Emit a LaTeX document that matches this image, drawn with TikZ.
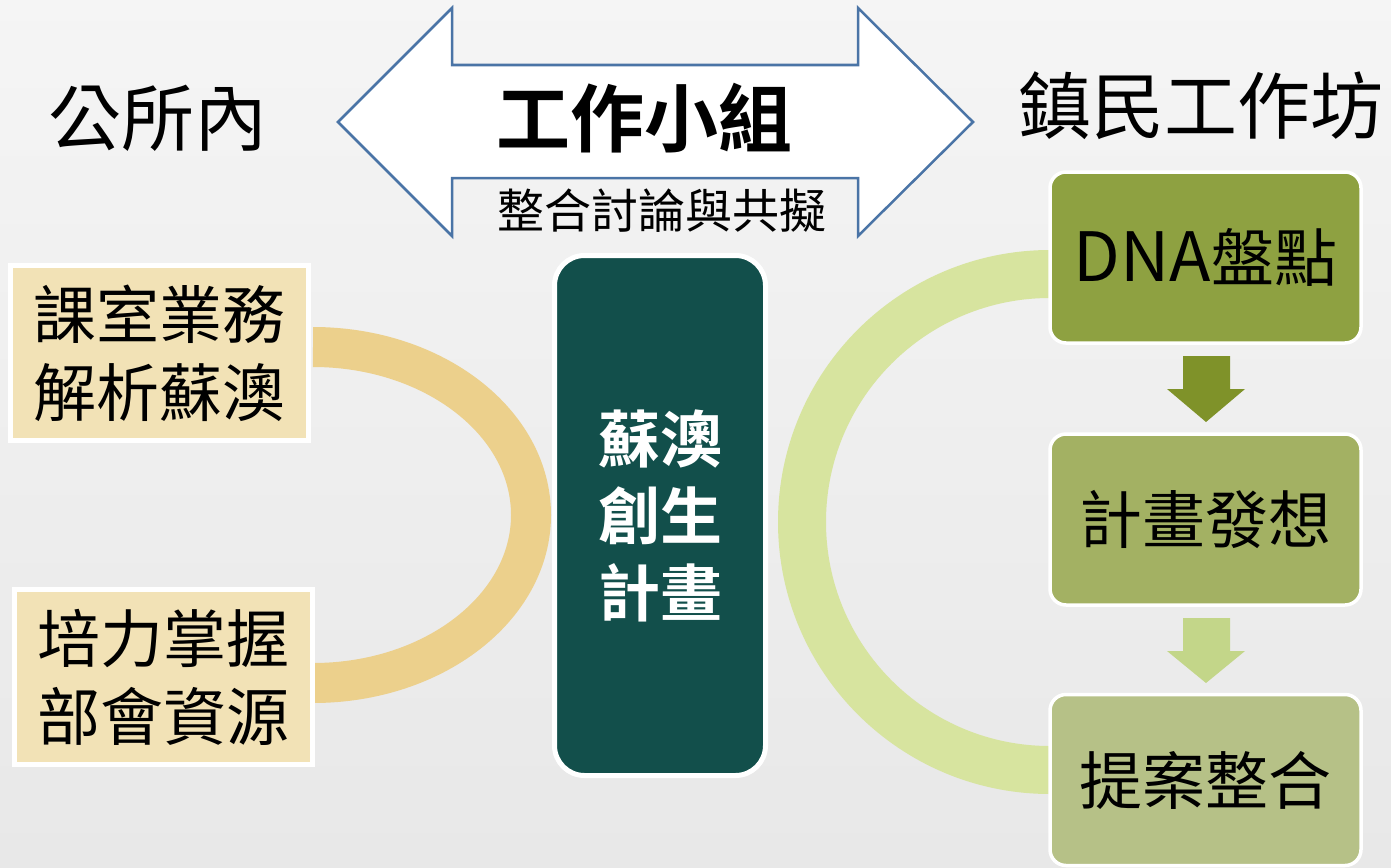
\documentclass[tikz,border=0pt]{standalone}
\usepackage{fontspec}
\setmainfont{Noto Sans CJK TC}[BoldFont={Noto Sans CJK TC Bold}]
\usetikzlibrary{calc}
\definecolor{bgc}{HTML}{EEEEEE}
\definecolor{bgd}{HTML}{E8E8E8}
\definecolor{arrowblue}{HTML}{4A74A6}
\definecolor{tanbox}{HTML}{F2E2B6}
\definecolor{tanarc}{HTML}{ECD08C}
\definecolor{darkteal}{HTML}{124F4B}
\definecolor{olive1}{HTML}{8EA141}
\definecolor{olive2}{HTML}{A3B163}
\definecolor{olive3}{HTML}{B6C187}
\definecolor{arr1}{HTML}{7F9229}
\definecolor{arr2}{HTML}{C3D689}
\definecolor{greenarc}{HTML}{D7E49F}
\tikzset{
  bigtitle/.style={font=\fontsize{73}{80}\selectfont, inner sep=0pt},
  tanbx/.style={draw=white, line width=5pt, fill=tanbox, inner sep=0pt,
    minimum width=298pt, minimum height=175pt, align=center,
    font=\fontsize{63}{78}\selectfont},
  greenbx/.style={draw=white, line width=3.5pt, rounded corners=16pt, inner sep=0pt,
    minimum width=311pt, minimum height=171pt, align=center,
    font=\fontsize{63}{78}\selectfont},
  centerbx/.style={draw=white, line width=5pt, fill=darkteal, rounded corners=30pt,
    inner sep=0pt, minimum width=211pt, minimum height=520pt, align=center,
    text=white, font=\bfseries\fontsize{62}{77}\selectfont},
  tanline/.style={draw=tanarc, line width=40pt},
  greenline/.style={draw=greenarc, line width=48pt},
}
\begin{document}
\begin{tikzpicture}[x=1pt,y=1pt]
\useasboundingbox (0,0) rectangle (1391,-867);
\shade[top color=bgc!60!white, bottom color=bgd] (0,0) rectangle (1391,-867);

% double arrow
\draw[arrowblue, line width=2.5pt, fill=white, line join=miter]
  (338,-122) -- (452,-8) -- (452,-65) -- (858,-65) -- (858,-8) -- (973,-122)
  -- (858,-236) -- (858,-178) -- (452,-178) -- (452,-236) -- cycle;
\node[bigtitle, font=\bfseries\fontsize{74}{80}\selectfont] (team) at (644,-118) {工作小組};
\node[inner sep=0pt, font=\fontsize{47}{50}\selectfont] (disc) at (662,-211) {整合討論與共擬};

\node[bigtitle] (office) at (158,-118) {公所內};
\node[bigtitle] (workshop) at (1201,-106) {鎮民工作坊};

% arcs
\coordinate (ta) at (313,-347);
\coordinate (tb) at (313,-683);
\draw[tanline] (ta) arc[start angle=90, end angle=-90, x radius=218, y radius=168];
\coordinate (ga) at (1050,-274);
\coordinate (gb) at (1050,-770);
\draw[greenline] (ga) arc[start angle=90, end angle=270, radius=248];

% left boxes
\node[tanbx] (b1) at (159.5,-353) {課室業務\\解析蘇澳};
\node[tanbx] (b2) at (163,-677) {培力掌握\\部會資源};

% center box
\node[centerbx] (plan) at (660,-515.5) {蘇澳\\創生\\計畫};

% right boxes
\node[greenbx, fill=olive1] (dna) at (1205.5,-257.5) {\raisebox{2pt}{{\fontsize{68}{78}\selectfont DNA}盤點}};
\node[greenbx, fill=olive2] (idea) at (1205.5,-519.5) {\raisebox{3pt}{計畫發想}};
\node[greenbx, fill=olive3] (prop) at (1205.5,-780) {\raisebox{2pt}{提案整合}};

% down arrows
\fill[arr1] (1183,-356) -- (1230,-356) -- (1230,-389) -- (1245,-389) -- (1206,-422)
  -- (1167,-389) -- (1183,-389) -- cycle;
\fill[arr2] (1183,-618) -- (1230,-618) -- (1230,-651) -- (1245,-651) -- (1206,-683)
  -- (1167,-651) -- (1183,-651) -- cycle;
\end{tikzpicture}
\end{document}
